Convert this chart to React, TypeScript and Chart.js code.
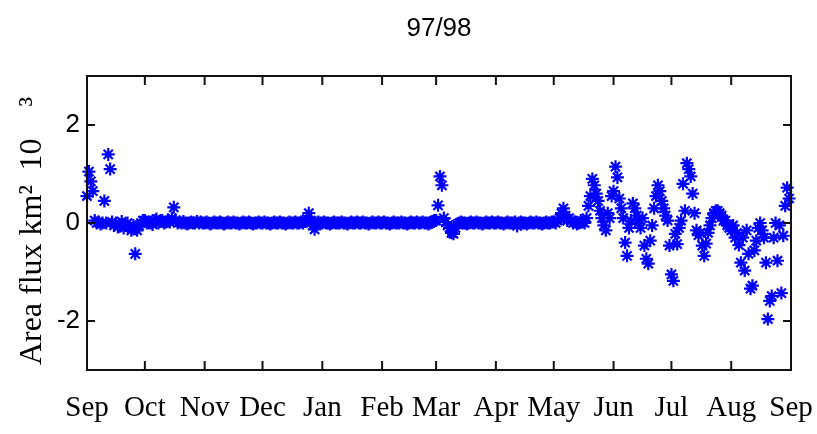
import { useEffect, useRef } from "react";
import { Chart, registerables } from "chart.js";

Chart.register(...registerables);

const titleText = "97/98";
const yAxisTitle = "Area flux km\u00B2 \u200910\u2003\u00B3\u2002";
const monthLabels = ["Sep", "Oct", "Nov", "Dec", "Jan", "Feb", "Mar", "Apr", "May", "Jun", "Jul", "Aug", "Sep"];
const monthLengths = [30, 31, 30, 31, 31, 28, 31, 30, 31, 30, 31, 31];
const yTickValues = [-2, 0, 2];

// daily area flux values (km^2 10^3), one array per month, Sep 1997 .. Aug 1998
const sepValues = [0.55, 1.05, 0.85, 0.65, 0.05, 0.0, 0.02, -0.02, 0.0, 0.45, 0.0, 1.4, 1.1, 0.02, -0.05, 0.0, -0.08, -0.05, 0.03, -0.1, -0.05, 0.0, -0.08, -0.15, -0.05, -0.63, -0.15, -0.05, 0.0, 0.05];
const octValues = [0.05, 0.0, 0.02, 0.0, -0.03, 0.05, 0.08, 0.0, 0.03, 0.05, 0.0, 0.02, 0.05, 0.02, 0.1, 0.32, 0.05, 0.0, 0.02, 0.0, 0.03, 0.0, -0.02, 0.0, 0.02, 0.0, 0.0, 0.03, 0.0, 0.02, 0.0];
const novValues = [0, 0.02, 0, -0.02, 0, 0.02, 0, 0, 0.02, 0, -0.02, 0, 0.02, 0, 0, 0.02, 0, 0, -0.02, 0, 0.02, 0, 0, 0.02, 0, -0.02, 0, 0, 0.02, 0];
const decValues = [0, 0.02, 0, 0, -0.02, 0, 0.02, 0, 0, 0.02, 0, 0, -0.02, 0, 0.02, 0, 0, 0.02, 0, 0, 0.02, 0, 0.03, 0.08, 0.2, 0.05, -0.05, -0.13, 0.0, 0.02, 0];
const janValues = [0, 0.02, 0, 0, -0.02, 0, 0.02, 0, 0, 0, 0.02, 0, 0, -0.02, 0, 0.02, 0, 0, 0.02, 0, 0, 0.02, 0, 0, -0.02, 0, 0.02, 0, 0, 0.02, 0];
const febValues = [0, 0.02, 0, 0, -0.02, 0, 0.02, 0, 0, 0, 0.02, 0, 0, -0.02, 0, 0.02, 0, 0, 0.02, 0, 0, 0.02, 0, 0, -0.02, 0, 0.03, 0.05];
const marValues = [0.05, 0.36, 0.95, 0.77, 0.1, 0.02, -0.05, -0.1, -0.2, -0.22, -0.1, -0.03, 0, 0.02, 0, 0, -0.02, 0, 0.02, 0, 0, 0.02, 0, 0, -0.02, 0, 0.02, 0, 0, 0.02, 0];
const aprValues = [0, 0.02, 0, 0, -0.02, 0, 0.02, 0, 0, 0, 0.02, -0.06, 0, 0.02, 0, 0, -0.02, 0, 0.02, 0, 0, 0.02, 0, 0, -0.02, 0, 0.02, 0, 0, 0.02];
const mayValues = [0.02, 0.0, 0.05, 0.1, 0.2, 0.3, 0.15, 0.05, 0.1, 0.05, 0.0, 0.02, -0.02, 0.0, 0.05, 0.02, 0.0, 0.1, 0.35, 0.55, 0.9, 0.77, 0.6, 0.45, 0.25, 0.1, -0.05, -0.15, 0.2, 0.1, 0.55];
const junValues = [0.65, 1.15, 0.93, 0.5, 0.3, 0.1, -0.4, -0.67, -0.1, 0.05, 0.4, 0.3, 0.15, 0.0, -0.1, 0.1, -0.46, -0.73, -0.83, -0.36, -0.05, 0.3, 0.55, 0.77, 0.65, 0.45, 0.3, 0.15, 0.05, -0.46];
const julValues = [-1.05, -1.18, -0.22, -0.43, -0.1, 0.05, 0.8, 0.25, 1.22, 1.1, 0.95, 0.6, 0.2, -0.15, -0.25, -0.2, -0.46, -0.67, -0.42, -0.2, -0.05, 0.1, 0.2, 0.25, 0.25, 0.2, 0.15, 0.05, 0.05, -0.05, -0.1];
const augValues = [-0.15, -0.05, -0.3, -0.2, -0.45, -0.81, -0.3, -0.97, -0.15, -0.63, -1.34, -1.28, -0.56, -0.36, -0.1, 0.0, -0.15, -0.3, -0.81, -1.96, -1.59, -1.49, -0.3, 0.0, -0.77, -0.05, -1.43, -0.26, 0.35, 0.72, 0.5];

const monthlySeries = [sepValues, octValues, novValues, decValues, janValues, febValues, marValues, aprValues, mayValues, junValues, julValues, augValues];

const SERIF = '"Liberation Serif", "DejaVu Serif", serif';
const SANS = '"Liberation Sans Narrow", "Liberation Sans", "DejaVu Sans", sans-serif';

function buildPoints() {
  const pts: { x: number; y: number }[] = [];
  let offset = 0;
  monthlySeries.forEach((vals, m) => {
    vals.forEach((v, i) => pts.push({ x: offset + i, y: v }));
    offset += monthLengths[m];
  });
  return pts;
}

function monthStarts() {
  const starts = [0];
  let acc = 0;
  monthLengths.forEach((len) => {
    acc += len;
    starts.push(acc);
  });
  return starts;
}

const framePlugin = {
  id: "matlabFrame",
  afterDraw(chart: any) {
    const { ctx, chartArea, scales } = chart;
    const { left, right, top, bottom } = chartArea;
    ctx.save();
    ctx.strokeStyle = "#111";
    ctx.lineWidth = 2;
    ctx.strokeRect(left, top, right - left, bottom - top);
    ctx.beginPath();
    scales.x.ticks.forEach((t: any) => {
      const px = scales.x.getPixelForValue(t.value);
      ctx.moveTo(px, bottom);
      ctx.lineTo(px, bottom - 9);
      ctx.moveTo(px, top);
      ctx.lineTo(px, top + 9);
    });
    scales.y.ticks.forEach((t: any) => {
      const py = scales.y.getPixelForValue(t.value);
      ctx.moveTo(left, py);
      ctx.lineTo(left + 8, py);
      ctx.moveTo(right, py);
      ctx.lineTo(right - 8, py);
    });
    ctx.stroke();
    ctx.restore();
  },
};

export default function App() {
  const canvasRef = useRef<HTMLCanvasElement | null>(null);

  useEffect(() => {
    if (!canvasRef.current) return;
    const starts = monthStarts();
    const chart = new Chart(canvasRef.current, {
      type: "scatter",
      data: {
        datasets: [
          {
            data: buildPoints(),
            pointStyle: "star",
            pointRadius: 6.5,
            pointBorderWidth: 2.2,
            borderColor: "#0000ff",
            backgroundColor: "#0000ff",
            showLine: false,
            clip: false as any,
          },
        ],
      },
      options: {
        animation: false,
        responsive: true,
        maintainAspectRatio: false,
        layout: { padding: { left: 0, right: 26, top: 0, bottom: 0 } },
        plugins: {
          legend: { display: false },
          tooltip: { enabled: false },
          title: {
            display: true,
            text: titleText,
            fullSize: false,
            color: "#000",
            font: { family: SANS, size: 26, weight: "normal", lineHeight: 1 },
            padding: { top: 16, bottom: 34 },
          },
        },
        scales: {
          x: {
            type: "linear",
            min: 0,
            max: 365,
            grid: { display: false, drawTicks: false },
            border: { display: false },
            afterBuildTicks: (scale: any) => {
              scale.ticks = starts.map((v) => ({ value: v }));
            },
            afterFit: (scale: any) => {
              scale.height = 64;
              scale.paddingLeft = 0;
              scale.paddingRight = 0;
            },
            ticks: {
              autoSkip: false,
              maxRotation: 0,
              minRotation: 0,
              padding: 21,
              color: "#000",
              font: { family: SERIF, size: 29 },
              callback: (_v: any, index: number) => monthLabels[index],
            },
          },
          y: {
            type: "linear",
            min: -3,
            max: 3,
            grid: { display: false, drawTicks: false },
            border: { display: false },
            afterBuildTicks: (scale: any) => {
              scale.ticks = yTickValues.map((v) => ({ value: v }));
            },
            afterFit: (scale: any) => {
              scale.width = 87;
            },
            ticks: {
              padding: 7,
              color: "#000",
              font: { family: SANS, size: 26 },
              callback: (v: any) => String(v),
            },
            title: {
              display: true,
              text: yAxisTitle,
              color: "#000",
              font: { family: SERIF, size: 32, lineHeight: 1.2 },
              padding: { top: 13, bottom: 0 },
            },
          },
        },
      },
      plugins: [framePlugin],
    });
    return () => chart.destroy();
  }, []);

  return (
    <div style={{ position: "fixed", left: 0, top: 0, width: 817, height: 434, background: "#fff" }}>
      <canvas ref={canvasRef} />
    </div>
  );
}
